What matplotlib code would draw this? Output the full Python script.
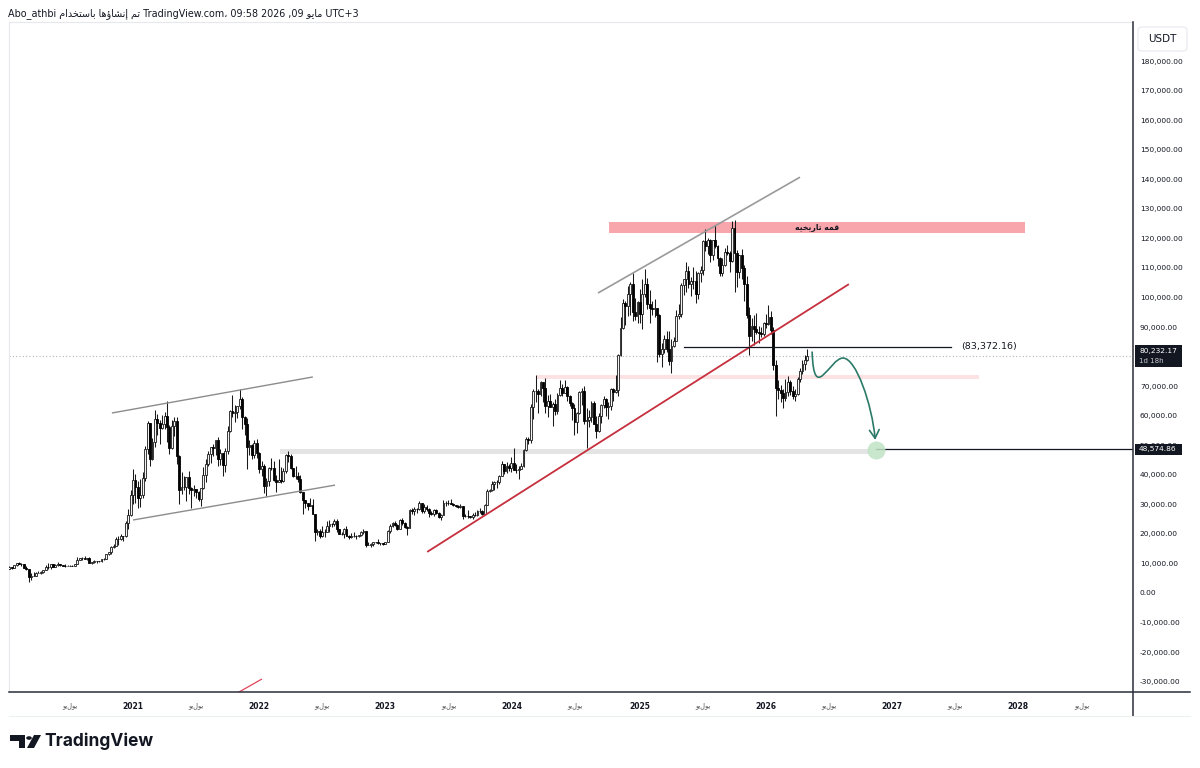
import matplotlib
matplotlib.use('Agg')
import numpy as np
import pandas as pd
import matplotlib.pyplot as plt
import matplotlib.dates as mdates
from matplotlib.path import Path
from matplotlib.patches import FancyArrowPatch, Rectangle, Polygon, Circle, FancyBboxPatch, ArrowStyle
from matplotlib.lines import Line2D

W, H = 1200, 768

# weekly BTC/USDT candles, prices in thousands (first bar = week of 2019-12-30)
first_week = '2019-12-30'
first_open = 7.39

close_2020 = [7.76, 8.19, 8.70, 8.60, 9.34,
              10.17, 9.90, 9.66, 8.52,
              8.03, 5.36, 5.83, 5.88, 6.78,
              6.90, 7.12, 7.69, 8.90,
              8.72, 9.67, 8.72, 9.45,
              9.75, 9.38, 9.30, 9.00, 9.07,
              9.28, 9.16, 9.93, 11.05,
              11.68, 11.90, 11.65, 11.68, 10.26,
              10.33, 10.94, 10.77, 10.67,
              11.38, 11.50, 13.03, 13.74,
              15.48, 15.95, 18.40, 18.18, 19.37,
              19.17, 23.85, 26.50, 33.00]
high_2020 = [7.80, 8.40, 9.20, 8.80, 9.60,
             10.20, 10.50, 10.25, 9.97,
             9.19, 8.18, 6.90, 6.95, 7.20,
             7.47, 7.30, 7.73, 9.46,
             10.00, 9.85, 9.90, 9.70,
             10.40, 9.95, 9.60, 9.77, 9.35,
             9.44, 9.35, 9.97, 12.10,
             11.90, 12.10, 12.47, 11.80, 12.09,
             10.60, 11.10, 10.99, 10.96,
             11.50, 11.70, 13.30, 14.00,
             15.95, 16.50, 18.80, 19.40, 19.92,
             19.40, 24.20, 28.40, 34.80]
low_2020 = [6.87, 7.67, 8.10, 8.25, 8.60,
            9.15, 9.70, 9.30, 8.40,
            7.90, 3.78, 4.44, 5.70, 5.86,
            6.70, 6.50, 6.80, 7.65,
            8.10, 8.20, 8.80, 8.63,
            9.30, 9.20, 9.20, 8.93, 8.97,
            9.05, 9.07, 9.13, 9.90,
            11.00, 11.10, 11.40, 11.10, 10.00,
            9.88, 10.20, 10.14, 10.37,
            10.53, 11.20, 11.40, 12.90,
            13.20, 15.10, 15.80, 16.20, 18.00,
            17.60, 19.00, 21.80, 26.00]

close_2021 = [38.2, 35.8, 32.25, 33.1,
              38.9, 48.6, 57.4, 45.2,
              51.2, 59.0, 57.5, 55.8, 57.1,
              59.8, 56.2, 49.1, 56.6,
              58.2, 46.4, 34.8, 35.7, 35.8,
              39.1, 35.5, 34.7, 35.3,
              34.2, 31.8, 35.4, 39.9,
              43.8, 47.0, 49.3, 48.9, 51.8,
              45.2, 47.3, 43.2, 48.2,
              54.9, 61.5, 60.9, 61.3,
              63.3, 65.5, 59.7, 57.3, 49.4,
              50.1, 46.7, 50.8, 47.3]
high_2021 = [41.9, 40.1, 37.8, 38.5,
             40.9, 49.7, 58.35, 57.5,
             52.6, 61.8, 60.6, 58.4, 60.2,
             61.3, 64.9, 57.0, 58.5,
             59.5, 59.6, 46.7, 40.9, 39.5,
             39.3, 41.3, 35.8, 36.7,
             35.1, 34.6, 35.4, 42.6,
             45.3, 48.1, 49.4, 50.5, 51.9,
             52.9, 48.8, 47.4, 49.2,
             56.6, 62.0, 67.0, 63.7,
             63.3, 69.0, 66.3, 59.9, 59.1,
             51.9, 50.4, 51.9, 52.1]
low_2021 = [30.2, 30.4, 28.8, 29.2,
            32.3, 38.0, 47.0, 43.0,
            45.0, 49.3, 53.3, 50.4, 55.5,
            55.5, 51.0, 47.1, 48.6,
            53.0, 43.8, 30.0, 33.4, 34.9,
            31.0, 33.4, 28.8, 32.7,
            32.1, 31.1, 29.3, 35.2,
            37.6, 42.8, 43.9, 46.4, 46.6,
            42.8, 43.4, 39.6, 41.0,
            47.1, 54.4, 59.5, 57.8,
            59.1, 62.3, 55.6, 53.3, 42.0,
            46.8, 45.5, 45.6, 45.6]

close_2022 = [41.9, 43.1, 36.3, 37.9, 42.4,
              42.2, 38.4, 37.7, 38.4,
              37.8, 41.3, 46.8, 46.4,
              42.2, 39.7, 39.5, 38.5,
              34.1, 31.3, 30.3, 29.4, 29.9,
              26.6, 20.5, 21.0, 19.3,
              20.8, 20.8, 22.6, 23.3,
              23.2, 24.4, 21.5, 20.0, 20.0,
              21.8, 19.4, 18.8, 19.3,
              19.4, 19.2, 19.6, 20.6, 20.9,
              16.3, 16.3, 16.5, 17.1,
              17.1, 16.8, 16.8, 16.6]
high_2022 = [47.6, 44.5, 43.5, 38.9, 42.6,
             45.8, 44.7, 39.8, 45.4,
             42.6, 42.3, 46.9, 48.2,
             47.1, 42.4, 42.9, 40.8,
             40.0, 34.3, 31.3, 30.6, 32.2,
             31.7, 26.8, 21.8, 21.5,
             22.5, 21.6, 24.3, 24.7,
             23.6, 25.2, 25.1, 21.8, 20.6,
             21.9, 22.8, 19.7, 20.4,
             20.5, 19.5, 19.7, 21.1, 21.5,
             21.0, 17.2, 16.8, 17.4,
             17.4, 18.4, 17.0, 16.9]
low_2022 = [40.6, 39.7, 34.0, 32.9, 36.2,
            41.7, 38.0, 34.3, 37.5,
            37.2, 37.6, 40.5, 44.2,
            42.1, 39.2, 38.6, 37.7,
            33.7, 26.7, 28.7, 28.0, 29.3,
            26.6, 17.6, 19.6, 18.7,
            19.0, 18.9, 20.8, 20.7,
            22.4, 22.7, 20.8, 19.8, 19.6,
            18.5, 19.3, 18.2, 18.5,
            19.1, 18.2, 18.9, 19.3, 20.1,
            15.6, 16.2, 15.5, 16.0,
            16.9, 16.6, 16.3, 16.3]

close_2023 = [17.1, 20.9, 22.7, 23.7, 23.0,
              21.8, 24.6, 23.6, 22.4,
              22.0, 28.0, 27.9, 28.5,
              28.3, 30.3, 27.6, 29.2,
              28.4, 26.9, 26.8, 28.1, 27.2,
              25.8, 26.5, 30.5, 30.6,
              30.3, 30.2, 29.8, 29.3, 29.0,
              29.4, 26.1, 26.0, 25.9,
              25.8, 26.5, 26.3, 27.9,
              27.9, 26.8, 29.9, 34.5, 35.0,
              37.0, 37.4, 37.5, 39.5,
              43.8, 41.4, 43.0, 42.3]
high_2023 = [17.2, 21.3, 23.4, 23.9, 24.3,
             23.4, 25.2, 25.3, 23.9,
             22.6, 28.4, 28.9, 29.2,
             28.8, 31.0, 30.5, 30.0,
             29.8, 28.6, 27.6, 28.3, 28.4,
             27.4, 26.8, 31.4, 31.0,
             31.4, 31.8, 30.4, 29.9, 29.7,
             30.2, 29.5, 26.8, 28.1,
             26.1, 26.9, 27.5, 28.0,
             28.6, 28.0, 30.2, 35.2, 35.3,
             37.9, 37.9, 38.4, 39.9,
             44.7, 43.4, 44.4, 43.8]
low_2023 = [16.5, 17.1, 20.4, 22.3, 22.6,
            21.4, 21.5, 23.1, 21.9,
            19.6, 21.9, 26.6, 26.5,
            27.2, 28.2, 27.1, 26.9,
            27.7, 25.8, 26.3, 25.9, 26.6,
            25.4, 24.8, 26.3, 29.5,
            29.8, 30.0, 29.6, 29.1, 28.6,
            28.8, 25.2, 25.8, 25.4,
            25.4, 24.9, 26.0, 26.0,
            27.2, 26.5, 26.8, 29.9, 34.1,
            34.5, 34.8, 35.6, 37.0,
            39.5, 40.2, 40.5, 41.3]

close_2024 = [43.9, 41.7, 41.6, 42.0, 43.0,
              48.3, 52.1, 51.7, 63.1,
              68.4, 68.4, 67.2, 71.3,
              69.4, 63.4, 64.9, 63.1, 64.0,
              61.5, 66.9, 69.3, 67.8,
              69.6, 66.6, 64.2, 62.7,
              58.0, 60.8, 68.1, 68.2, 58.1,
              58.7, 59.4, 64.2, 57.3,
              54.8, 59.9, 63.6, 65.6, 62.8,
              63.2, 69.0, 67.9, 68.8,
              80.4, 89.8, 98.0, 97.2,
              101.1, 104.5, 95.1, 93.7, 98.3]
high_2024 = [45.9, 49.0, 43.6, 42.8, 43.9,
             48.6, 52.8, 52.9, 64.0,
             69.0, 73.8, 68.9, 71.7,
             71.3, 72.8, 66.9, 67.2, 64.7,
             65.5, 67.7, 71.9, 70.6,
             71.9, 70.1, 66.9, 64.5,
             63.8, 61.4, 68.4, 69.4, 70.0,
             62.7, 62.0, 65.0, 64.9,
             59.8, 61.0, 64.1, 66.5, 66.0,
             64.5, 69.4, 69.5, 73.6,
             81.0, 93.4, 99.6, 98.9,
             104.0, 105.2, 108.3, 99.9, 98.9]
low_2024 = [40.8, 41.5, 40.6, 38.5, 41.9,
            42.5, 48.0, 50.5, 50.9,
            59.0, 64.5, 60.8, 66.6,
            64.5, 61.0, 59.6, 62.8, 56.5,
            60.2, 60.6, 66.6, 66.6,
            67.6, 65.1, 63.4, 58.4,
            53.5, 54.3, 60.6, 63.5, 57.2,
            49.0, 56.1, 57.8, 57.2,
            52.5, 54.5, 57.5, 62.6, 59.8,
            58.9, 62.0, 65.1, 67.5,
            66.8, 80.3, 89.4, 90.8,
            93.6, 94.2, 92.1, 92.3, 91.3]

close_2025 = [94.5, 101.3, 104.7, 97.7,
              96.5, 96.1, 96.3, 94.2,
              80.7, 82.6, 86.1, 82.4, 78.4,
              83.7, 85.1, 93.7, 94.3,
              104.1, 106.4, 109.0, 104.6,
              105.6, 105.5, 101.0, 108.4, 109.2,
              119.1, 117.3, 119.4, 114.2,
              119.3, 117.4, 113.5, 108.2,
              111.1, 115.3, 115.2, 112.2, 123.5,
              115.0, 108.6, 114.5, 110.0,
              104.7, 94.2, 86.8, 90.4,
              89.3, 88.2, 88.1, 87.8, 91.5]
high_2025 = [102.7, 106.4, 109.6, 106.5,
             102.5, 98.8, 99.5, 96.5,
             94.4, 84.5, 87.4, 88.8, 88.5,
             86.1, 86.5, 95.8, 97.9,
             104.9, 105.8, 111.9, 110.7,
             106.8, 110.4, 108.9, 108.5, 110.5,
             119.5, 123.2, 120.2, 119.8,
             119.3, 124.5, 117.6, 113.6,
             113.4, 116.7, 117.9, 115.6, 125.7,
             126.2, 116.0, 114.0, 116.4,
             110.9, 107.4, 96.6, 93.1,
             94.2, 94.6, 90.4, 90.0, 91.8]
low_2025 = [91.2, 89.3, 100.1, 96.0,
            91.2, 94.1, 93.4, 78.2,
            80.0, 76.6, 81.2, 81.6, 77.2,
            74.5, 83.1, 85.1, 92.8,
            93.4, 100.7, 102.0, 103.1,
            100.4, 102.7, 98.2, 99.6, 105.1,
            107.5, 115.7, 114.7, 112.0,
            112.6, 116.8, 110.6, 107.3,
            107.3, 110.6, 114.4, 108.6, 111.9,
            102.0, 103.5, 106.5, 106.3,
            98.9, 93.0, 80.6, 85.2,
            83.8, 87.6, 84.5, 86.5, 86.8]

close_2026 = [90.9, 93.5, 89.0, 77.0,
              69.5, 68.8, 67.8, 66.0,
              68.0, 71.5, 68.5, 66.5, 67.3,
              72.5, 75.0, 77.5, 78.9,
              80.23217]
high_2026 = [94.5, 97.4, 95.5, 90.0,
             79.0, 72.0, 70.5, 69.0,
             72.5, 73.5, 72.0, 70.0, 69.0,
             73.0, 76.0, 79.0, 80.5,
             82.5]
low_2026 = [89.8, 90.8, 87.5, 75.5,
            60.0, 65.5, 64.5, 62.5,
            65.0, 66.5, 67.0, 65.5, 65.0,
            67.0, 71.5, 74.0, 75.5,
            78.5]

# axis ticks
price_ticks = list(range(-30, 181, 10))
year_ticks = ['2021-01-04', '2022-01-03', '2023-01-02', '2024-01-01',
              '2025-01-06', '2026-01-05', '2027-01-04', '2028-01-03']
year_labels = ['2021', '2022', '2023', '2024', '2025', '2026', '2027', '2028']
july_ticks = ['2020-07-06', '2021-07-05', '2022-07-04', '2023-07-03', '2024-07-01',
              '2025-07-07', '2026-07-06', '2027-07-05', '2028-07-03']
x_range = ['2020-01-12', '2028-11-29']
y_range = [-33.5, 193.2]

# drawings (date, price in thousands)
channel_upper = (['2020-11-04', '2022-06-07'], [60.9, 73.1])
channel_lower = (['2021-01-04', '2022-08-10'], [24.7, 36.5])
top_line = (['2024-09-07', '2026-04-13'], [101.5, 140.7])
red_trend = (['2023-05-03', '2026-09-01'], [13.9, 104.5])
red_stub = (['2021-10-16', '2022-01-11'], [-34.9, -29.1])
ath_zone = (['2024-10-09', '2028-01-23'], [121.8, 125.5])
pink_band = (['2024-03-15', '2027-09-12'], [72.4, 73.8])
gray_band = (['2022-03-04', '2026-11-01'], [47.0, 48.7])
level_83k = (['2025-05-13', '2027-06-23'], 83.37216)
level_48k = ('2026-11-18', 48.57486)
last_price = 80.23217
arrow_dates = ['2026-05-18', '2026-05-23', '2026-07-08', '2026-08-15',
               '2026-09-22', '2026-11-07', '2026-11-16']
arrow_prices = [81.5, 63.6, 79.5, 79.5, 79.5, 63.6, 51.8]
target = ('2026-11-18', 48.4)

# minimal Arabic shaping (iso, fin, ini, med) so glyphs join in visual order
AR_FORMS = {
    '\u0627': ('\uFE8D', '\uFE8E', None, None),
    '\u0625': ('\uFE87', '\uFE88', None, None),
    '\u0624': ('\uFE85', '\uFE86', None, None),
    '\u062F': ('\uFEA9', '\uFEAA', None, None),
    '\u0631': ('\uFEAD', '\uFEAE', None, None),
    '\u0648': ('\uFEED', '\uFEEE', None, None),
    '\u0628': ('\uFE8F', '\uFE90', '\uFE91', '\uFE92'),
    '\u062A': ('\uFE95', '\uFE96', '\uFE97', '\uFE98'),
    '\u062E': ('\uFEA5', '\uFEA6', '\uFEA7', '\uFEA8'),
    '\u0633': ('\uFEB1', '\uFEB2', '\uFEB3', '\uFEB4'),
    '\u0634': ('\uFEB5', '\uFEB6', '\uFEB7', '\uFEB8'),
    '\u0642': ('\uFED5', '\uFED6', '\uFED7', '\uFED8'),
    '\u0645': ('\uFEE1', '\uFEE2', '\uFEE3', '\uFEE4'),
    '\u0646': ('\uFEE5', '\uFEE6', '\uFEE7', '\uFEE8'),
    '\u0647': ('\uFEE9', '\uFEEA', '\uFEEB', '\uFEEC'),
    '\u064A': ('\uFEF1', '\uFEF2', '\uFEF3', '\uFEF4'),
}


def ar(text):
    out = []
    for i, ch in enumerate(text):
        if ch not in AR_FORMS:
            out.append(ch)
            continue
        prev = text[i - 1] if i > 0 else ''
        nxt = text[i + 1] if i + 1 < len(text) else ''
        f = AR_FORMS[ch]
        jp = prev in AR_FORMS and AR_FORMS[prev][2] is not None
        jn = f[2] is not None and nxt in AR_FORMS
        if jp and jn:
            out.append(f[3])
        elif jp:
            out.append(f[1])
        elif jn:
            out.append(f[2])
        else:
            out.append(f[0])
    return ''.join(out)[::-1]


def d(s):
    return mdates.date2num(pd.Timestamp(s))


def fx(x):
    return x / W


def fy(y):
    return 1 - y / H


close = np.array(close_2020 + close_2021 + close_2022 + close_2023 + close_2024 + close_2025 + close_2026)
high = np.array(high_2020 + high_2021 + high_2022 + high_2023 + high_2024 + high_2025 + high_2026)
low = np.array(low_2020 + low_2021 + low_2022 + low_2023 + low_2024 + low_2025 + low_2026)
dates = pd.date_range(first_week, periods=len(close), freq='7D')
xd = mdates.date2num(dates)
opens = np.concatenate([[first_open], close[:-1]])
high = np.maximum(high, np.maximum(opens, close))
low = np.minimum(low, np.minimum(opens, close))
up = close >= opens

fig = plt.figure(figsize=(W / 100, H / 100), dpi=100)
fig.patch.set_facecolor('white')
ax = fig.add_axes([fx(9), fy(692), fx(1133) - fx(9), fy(22) - fy(692)])
ax.set_facecolor('white')

# candles
ax.vlines(xd, low, high, color='#1a1a1a', lw=0.75, zorder=3)
ax.bar(xd[up], (close - opens)[up], bottom=opens[up], width=5.4,
       color='#f4f4f4', edgecolor='#1a1a1a', lw=0.6, zorder=4)
ax.bar(xd[~up], (opens - close)[~up], bottom=close[~up], width=5.4,
       color='black', edgecolor='black', lw=0.6, zorder=4)

# zones
for (dd, pp), col in [(ath_zone, '#f8a6ac'), (pink_band, '#fde2e4'), (gray_band, '#e4e4e4')]:
    ax.add_patch(Rectangle((d(dd[0]), pp[0]), d(dd[1]) - d(dd[0]), pp[1] - pp[0],
                           facecolor=col, edgecolor='none', zorder=1))
ax.text((d(ath_zone[0][0]) + d(ath_zone[0][1])) / 2, sum(ath_zone[1]) / 2, ar('قمه تاريخيه'),
        ha='center', va='center', fontsize=5.5, fontweight='bold', color='#131722', zorder=6)

# trend lines
for (dd, pp), col, lw in [(channel_upper, '#8c8c8c', 1.0), (channel_lower, '#8c8c8c', 1.0),
                          (top_line, '#9a9a9a', 1.2), (red_trend, '#c62f3d', 1.3),
                          (red_stub, '#e0455a', 0.9)]:
    ax.plot([d(dd[0]), d(dd[1])], pp, color=col, lw=lw, zorder=5, solid_capstyle='butt')

# levels
ax.axhline(last_price, color='#b2b5be', lw=0.8, ls=(0, (1, 2)), zorder=2)
ax.plot([d(level_83k[0][0]), d(level_83k[0][1])], [level_83k[1]] * 2, color='#131722', lw=0.9, zorder=5)
ax.text(d(level_83k[0][1]) + 30, level_83k[1], '({:,.2f})'.format(level_83k[1] * 1000),
        ha='left', va='center', fontsize=6.8, color='#131722')
ax.plot([d(level_48k[0]), d(x_range[1])], [level_48k[1]] * 2, color='#131722', lw=0.9, zorder=5)

# projected path
ad = [d(s) for s in arrow_dates]
path = Path(list(zip(ad, arrow_prices)),
            [Path.MOVETO, Path.CURVE4, Path.CURVE4, Path.CURVE4, Path.CURVE4, Path.CURVE4, Path.CURVE4])
ax.add_patch(FancyArrowPatch(path=path, arrowstyle=ArrowStyle('->', head_length=0.6, head_width=0.35),
                             mutation_scale=10, color='#2b7a67', lw=1.2, zorder=7))
ax.plot(d(target[0]), target[1], 'o', ms=13, color='#bfe3c4', alpha=0.85, mec='none', zorder=6)

ax.set_xlim(d(x_range[0]), d(x_range[1]))
ax.set_ylim(*y_range)

# price axis (the 80,000 label sits under the last-price box, as in TradingView)
ax.yaxis.tick_right()
ax.set_yticks(price_ticks)
ax.set_yticklabels(['' if v == 80 else '{:,.2f}'.format(v * 1000) for v in price_ticks])
ax.tick_params(axis='y', length=0, pad=5, labelsize=5.4, labelcolor='#131722')

# time axis
xt = [d(s) for s in year_ticks] + [d(s) for s in july_ticks]
ax.set_xticks(xt)
ax.set_xticklabels(year_labels + [ar('يوليو')] * len(july_ticks))
ax.tick_params(axis='x', length=0, pad=7, labelsize=5.5, labelcolor='#131722')
for lab in ax.get_xticklabels()[:len(year_ticks)]:
    lab.set_fontweight('bold')
for lab in ax.get_xticklabels()[len(year_ticks):]:
    lab.set_fontsize(4.8)
    lab.set_color('#4a4a4a')

for s in ['top', 'left']:
    ax.spines[s].set_color('#e6e8ee')
    ax.spines[s].set_linewidth(0.8)
ax.spines['right'].set_visible(False)
ax.spines['bottom'].set_visible(False)

# axis frame lines (extend past the plot like the original)
fig.add_artist(Line2D([fx(1133), fx(1133)], [fy(22), fy(716)], color='#2a2e39', lw=1.1))
fig.add_artist(Line2D([fx(9), fx(1190)], [fy(692), fy(692)], color='#2a2e39', lw=1.1))
fig.add_artist(Line2D([fx(9), fx(1190)], [fy(716), fy(716)], color='#eceef2', lw=0.8))

# price boxes on the axis
tr = ax.get_yaxis_transform()
ax.add_patch(Rectangle((1.0015, last_price - 3.6), 0.042, 7.2, transform=tr, fc='#131722',
                       ec='none', zorder=9, clip_on=False))
ax.text(1.0055, last_price + 1.6, '{:,.2f}'.format(last_price * 1000), transform=tr,
        ha='left', va='center', fontsize=5.4, color='white', zorder=10, clip_on=False)
ax.text(1.0055, last_price - 1.8, '1d 18h', transform=tr,
        ha='left', va='center', fontsize=5.0, color='#c8cad0', zorder=10, clip_on=False)
ax.add_patch(Rectangle((1.0015, level_48k[1] - 1.85), 0.042, 3.7, transform=tr, fc='#131722',
                       ec='none', zorder=9, clip_on=False))
ax.text(1.0055, level_48k[1], '{:,.2f}'.format(level_48k[1] * 1000), transform=tr,
        ha='left', va='center', fontsize=5.4, color='white', zorder=10, clip_on=False)

# currency box
fig.patches.append(FancyBboxPatch((fx(1138), fy(51)), fx(49), 24 / H, boxstyle='round,pad=0,rounding_size=0.004',
                                  transform=fig.transFigure, fc='white', ec='#e6e8ee', lw=0.8))
fig.text(fx(1162), fy(39), 'USDT', ha='center', va='center', fontsize=7.5, color='#131722')

# header
header = 'Abo_athbi ' + ar('تم إنشاؤها باستخدام') + ' TradingView.com\u060c 09:58 2026 ,09 ' + ar('مايو') + ' UTC+3'
fig.text(fx(8), fy(14), header, ha='left', va='center', fontsize=6.9, color='#131722')

# TradingView logo
logo = '#131722'
fig.patches.append(Polygon([(fx(10), fy(735)), (fx(25), fy(735)), (fx(25), fy(748)), (fx(19), fy(748)),
                            (fx(19), fy(741)), (fx(10), fy(741))], closed=True, transform=fig.transFigure,
                           fc=logo, ec='none'))
fig.patches.append(Circle((fx(29), fy(738)), 2.8 / W, transform=fig.transFigure, fc=logo, ec='none'))
fig.patches.append(Polygon([(fx(34), fy(735)), (fx(41), fy(735)), (fx(34), fy(748)), (fx(27), fy(748))],
                           closed=True, transform=fig.transFigure, fc=logo, ec='none'))
fig.text(fx(44), fy(741), 'TradingView', ha='left', va='center', fontsize=12.5, fontweight='bold',
         family=['Inter', 'DejaVu Sans'], color=logo)

fig.savefig('out.png', dpi=100, facecolor='white')
